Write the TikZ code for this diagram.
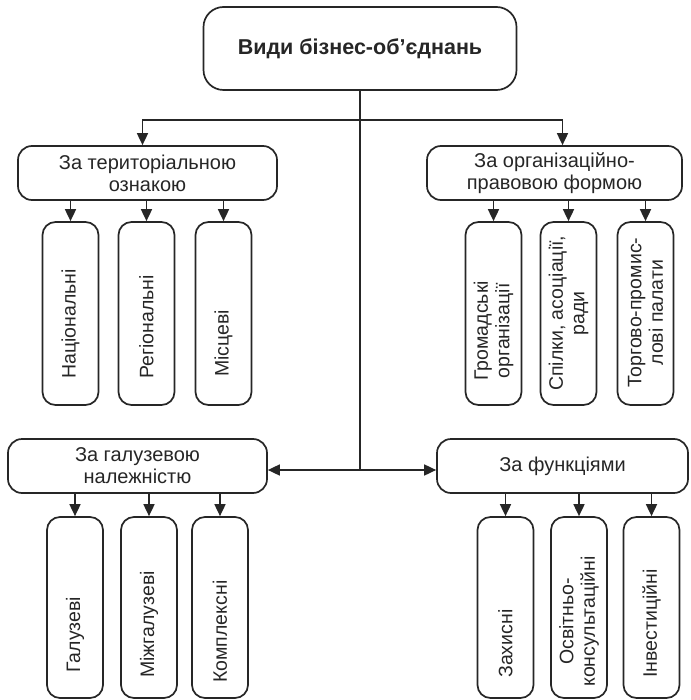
\documentclass[tikz,border=0pt]{standalone}
\usepackage{fontspec}
\setmainfont{Liberation Sans}
\usetikzlibrary{positioning,arrows.meta}

\tikzset{
  box/.style={draw=black!85,line width=1.7pt,rounded corners=14pt,inner sep=0pt,
    align=center,text=black!85,font=\fontsize{20}{22}\selectfont},
  smallbox/.style={draw=black!85,line width=1.7pt,rounded corners=13pt,
    minimum width=56pt,minimum height=183pt,inner sep=0pt},
  vlab/.style={rotate=90,anchor=west,align=center,inner sep=0pt,text=black!85,
    font=\fontsize{19.5}{21.5}\selectfont},
  arr/.style={draw=black!85,line width=1.7pt,-{Triangle[length=12pt,width=11pt]}},
  conn/.style={draw=black!85,line width=1.7pt}
}

\begin{document}
\begin{tikzpicture}[x=1pt,y=-1pt]
  \useasboundingbox (0,0) rectangle (690,700);

  % main box and the four groups
  \node[box,rounded corners=20pt,minimum width=313pt,minimum height=83pt,
    font=\fontsize{21.5}{23}\selectfont\bfseries] (top) at (360,48.5) {Види бізнес-об’єднань};
  \node[box,minimum width=259pt,minimum height=54pt] (terr) at (147.5,173) {За територіальною\\ознакою};
  \node[box,minimum width=255pt,minimum height=54pt] (org) at (554.5,173) {За організаційно-\\правовою формою};
  \node[box,minimum width=259pt,minimum height=54pt] (gal) at (137.5,466) {За галузевою\\належністю};
  \node[box,minimum width=251pt,minimum height=54pt] (fun) at (562.5,466) {За функціями};

  % upper small boxes
  \node[smallbox] (nat) at (70.5,313.5) {};
  \node[smallbox] (reg) at (146.5,313.5) {};
  \node[smallbox] (mis) at (223.5,313.5) {};
  \node[smallbox] (hrom) at (493.5,313.5) {};
  \node[smallbox] (spil) at (568.5,313.5) {};
  \node[smallbox] (torh) at (645.5,313.5) {};

  % lower small boxes
  \node[smallbox,minimum height=181pt] (galz) at (75,607.5) {};
  \node[smallbox,minimum height=181pt] (mizh) at (149,607.5) {};
  \node[smallbox,minimum height=181pt] (kompl) at (220,607.5) {};
  \node[smallbox,minimum height=181pt] (zakh) at (505.5,607.5) {};
  \node[smallbox,minimum height=181pt] (osv) at (579,607.5) {};
  \node[smallbox,minimum height=181pt] (inv) at (651.5,607.5) {};

  % labels
  \node[vlab] (natl) at ([yshift=27pt]nat.south) {Національні};
  \node[vlab] (regl) at ([yshift=27pt]reg.south) {Регіональні};
  \node[vlab] (misl) at ([yshift=29pt]mis.south) {Місцеві};
  \node[vlab] (hroml) at ([yshift=25pt]hrom.south) {Громадські\\організації};
  \node[vlab] (spill) at ([yshift=15pt]spil.south) {Спілки, асоціації,\\ради};
  \node[vlab] (torhl) at ([yshift=18pt]torh.south) {Торгово-промис-\\лові палати};
  \node[vlab] (galzl) at ([yshift=26pt]galz.south) {Галузеві};
  \node[vlab] (mizhl) at ([yshift=21pt]mizh.south) {Міжгалузеві};
  \node[vlab] (kompll) at ([yshift=16pt]kompl.south) {Комплексні};
  \node[vlab] (zakhl) at ([yshift=21pt]zakh.south) {Захисні};
  \node[vlab] (osvl) at ([yshift=12pt]osv.south) {Освітньо-\\консультаційні};
  \node[vlab] (invl) at ([yshift=21pt]inv.south) {Інвестиційні};

  % connectors
  \coordinate (jn) at (360,470);
  \draw[conn] (top.south) -- (jn);
  \draw[arr] (top.south) -- ++(0,29) -| ([xshift=-5pt]terr.north);
  \draw[arr] (top.south) -- ++(0,29) -| ([xshift=8pt]org.north);
  \draw[arr] (jn) -- (jn -| gal.east);
  \draw[arr] (jn) -- (jn -| fun.west);

  \foreach \a/\b in {terr/nat,terr/reg,terr/mis,org/hrom,org/spil,org/torh,
                     gal/galz,gal/mizh,gal/kompl,fun/zakh,fun/osv,fun/inv}
    \draw[arr] (\a.south -| \b.north) -- (\b.north);
\end{tikzpicture}
\end{document}
